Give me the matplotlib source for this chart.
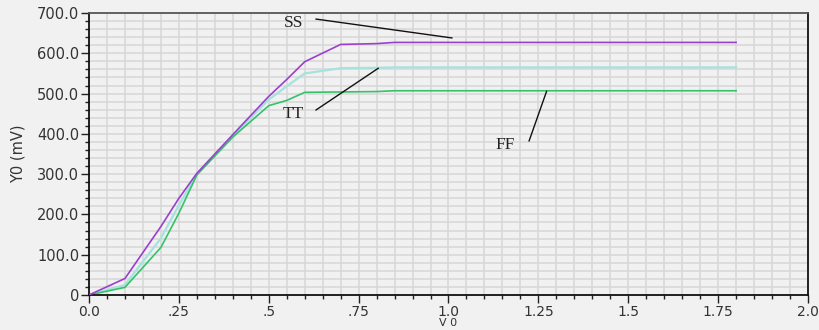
import matplotlib.pyplot as plt
from matplotlib.ticker import MultipleLocator, FixedLocator, FixedFormatter

# sweep points (V) and the three corner curves (mV)
v0 = [0.0, 0.1, 0.2, 0.25, 0.3, 0.4, 0.5, 0.55, 0.6, 0.7, 0.8, 0.85, 1.8]
ss = [0, 41, 170, 240, 302, 398, 493, 535, 579, 622, 624, 627, 627]
tt = [0, 25, 141, 223, 300, 395, 485, 518, 550, 563, 564, 565, 565]
ff = [0, 19, 118, 203, 298, 392, 470, 483, 503, 504, 505, 507, 507]

x_ticks = [0.0, 0.25, 0.5, 0.75, 1.0, 1.25, 1.5, 1.75, 2.0]
x_labels = ['0.0', '.25', '.5', '.75', '1.0', '1.25', '1.5', '1.75', '2.0']
y_ticks = [0, 100, 200, 300, 400, 500, 600, 700]
y_labels = ['0', '100.0', '200.0', '300.0', '400.0', '500.0', '600.0', '700.0']

BG = '#f0f1f0'
GRID = '#d6d6d6'

fig = plt.figure(figsize=(8.2, 3.3), dpi=100, facecolor=BG)
ax = fig.add_axes([89 / 820, 35 / 330, 719 / 820, 282 / 330])
ax.set_facecolor(BG)

# grid every 0.05 V and 20 mV
for gx in [i * 0.05 for i in range(1, 40)]:
    ax.axvline(gx, color=GRID, lw=1.1, zorder=0)
for gy in range(20, 700, 20):
    ax.axhline(gy, color=GRID, lw=1.1, zorder=0)

ax.plot(v0, ss, color='#9b3fcf', lw=1.2, zorder=3)
ax.plot(v0, tt, color='#a6e2de', lw=1.6, zorder=2)
ax.plot(v0, ff, color='#35c26a', lw=1.2, zorder=2)

ax.set_xlim(0, 2.0)
ax.set_ylim(0, 700)

ax.xaxis.set_major_locator(FixedLocator(x_ticks))
ax.xaxis.set_major_formatter(FixedFormatter(x_labels))
ax.xaxis.set_minor_locator(MultipleLocator(0.05))
ax.yaxis.set_major_locator(FixedLocator(y_ticks))
ax.yaxis.set_major_formatter(FixedFormatter(y_labels))
ax.yaxis.set_minor_locator(MultipleLocator(20))

ax.tick_params(which='major', direction='out', length=6, width=1, color='#222222',
               labelsize=10.5, labelcolor='#333333')
ax.tick_params(which='minor', direction='out', length=3, width=1, color='#222222')
ax.tick_params(axis='x', pad=1, labelsize=10)
ax.tick_params(axis='y', pad=1)

for side in ['left', 'bottom', 'right']:
    ax.spines[side].set_color('#111111')
    ax.spines[side].set_linewidth(1.3)
ax.spines['top'].set_color('#555555')
ax.spines['top'].set_linewidth(1.3)

ax.set_ylabel('Y0 (mV)', fontsize=10.5, color='#333333', labelpad=8)
ax.set_xlabel('V 0', fontsize=8, color='#333333', labelpad=-0.5)

# curve labels with leader lines
lbl = dict(fontsize=12.5, family='Liberation Serif', color='#222222', ha='center', va='center')
ax.text(0.569, 675, 'SS', **lbl)
ax.text(0.569, 449, 'TT', **lbl)
ax.text(1.157, 372, 'FF', **lbl)
lead = dict(arrowstyle='-', color='#111111', lw=1.0, shrinkA=0, shrinkB=0)
ax.annotate('', xy=(1.01, 638), xytext=(0.631, 685), arrowprops=lead)
ax.annotate('', xy=(0.805, 563), xytext=(0.631, 459), arrowprops=lead)
ax.annotate('', xy=(1.273, 506), xytext=(1.224, 382), arrowprops=lead)

fig.savefig('out.png', dpi=100, facecolor=BG)
